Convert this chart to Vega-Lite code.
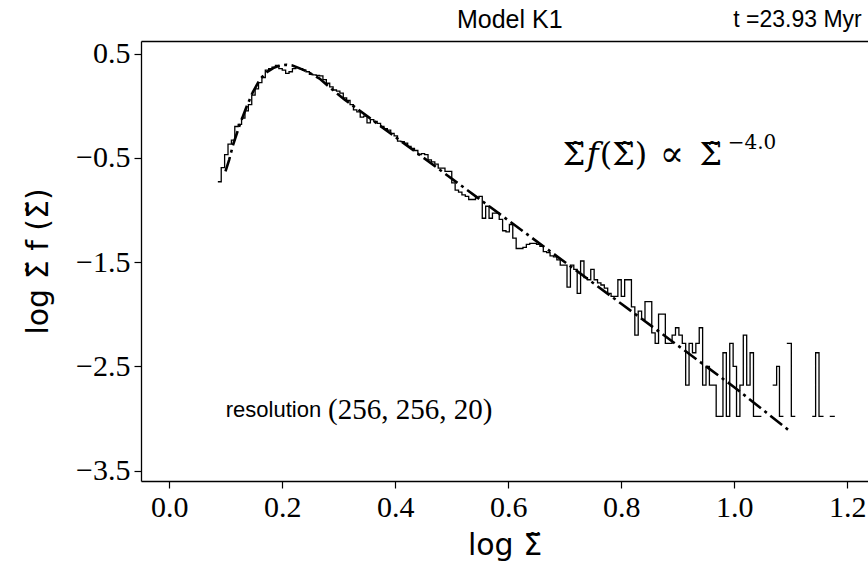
{
  "$schema": "https://vega.github.io/schema/vega-lite/v6.json",
  "width": 727,
  "height": 440,
  "autosize": {"type": "none"},
  "padding": {"left": 141, "top": 41, "right": 0, "bottom": 86},
  "background": "white",
  "config": {
    "view": {"stroke": null},
    "axis": {
      "grid": false,
      "domainColor": "black",
      "domainWidth": 1.3,
      "tickColor": "black",
      "tickWidth": 1.2,
      "tickSize": 7,
      "labelFont": "Liberation Serif",
      "labelFontSize": 30,
      "labelColor": "black",
      "labelPadding": 4,
      "titleFont": "DejaVu Sans",
      "titleFontSize": 30,
      "titleFontWeight": "normal",
      "titleColor": "black"
    },
    "text": {"color": "black"}
  },
  "resolve": {"axis": {"x": "independent", "y": "independent"}},
  "layer": [
    {
      "data": {"values": [
        {"x": 0.086, "y": -0.73}, {"x": 0.092, "y": -0.595}, {"x": 0.098, "y": -0.47}, {"x": 0.104, "y": -0.37},
        {"x": 0.110, "y": -0.33}, {"x": 0.116, "y": -0.20}, {"x": 0.122, "y": -0.18}, {"x": 0.128, "y": -0.12},
        {"x": 0.134, "y": -0.05}, {"x": 0.140, "y": 0.01}, {"x": 0.146, "y": 0.10}, {"x": 0.152, "y": 0.16},
        {"x": 0.158, "y": 0.22}, {"x": 0.164, "y": 0.27}, {"x": 0.170, "y": 0.34}, {"x": 0.176, "y": 0.355},
        {"x": 0.182, "y": 0.37}, {"x": 0.188, "y": 0.385}, {"x": 0.194, "y": 0.355}, {"x": 0.200, "y": 0.34},
        {"x": 0.206, "y": 0.31}, {"x": 0.212, "y": 0.325}, {"x": 0.218, "y": 0.355}, {"x": 0.224, "y": 0.365},
        {"x": 0.230, "y": 0.355}, {"x": 0.236, "y": 0.34}, {"x": 0.242, "y": 0.325}, {"x": 0.248, "y": 0.30},
        {"x": 0.254, "y": 0.295}, {"x": 0.260, "y": 0.29}, {"x": 0.266, "y": 0.285}, {"x": 0.272, "y": 0.25},
        {"x": 0.278, "y": 0.215}, {"x": 0.284, "y": 0.18}, {"x": 0.290, "y": 0.15}, {"x": 0.296, "y": 0.14},
        {"x": 0.302, "y": 0.12}, {"x": 0.308, "y": 0.075}, {"x": 0.314, "y": 0.05}, {"x": 0.320, "y": 0.01},
        {"x": 0.326, "y": -0.04}, {"x": 0.332, "y": -0.06}, {"x": 0.338, "y": -0.11}, {"x": 0.344, "y": -0.10},
        {"x": 0.350, "y": -0.165}, {"x": 0.356, "y": -0.135}, {"x": 0.362, "y": -0.15}, {"x": 0.368, "y": -0.17},
        {"x": 0.374, "y": -0.20}, {"x": 0.380, "y": -0.22}, {"x": 0.386, "y": -0.235}, {"x": 0.392, "y": -0.265},
        {"x": 0.398, "y": -0.29}, {"x": 0.404, "y": -0.34}, {"x": 0.410, "y": -0.345}, {"x": 0.416, "y": -0.36},
        {"x": 0.422, "y": -0.39}, {"x": 0.428, "y": -0.41}, {"x": 0.434, "y": -0.43}, {"x": 0.440, "y": -0.47},
        {"x": 0.446, "y": -0.46}, {"x": 0.452, "y": -0.47}, {"x": 0.458, "y": -0.52}, {"x": 0.464, "y": -0.54},
        {"x": 0.470, "y": -0.56}, {"x": 0.476, "y": -0.60}, {"x": 0.482, "y": -0.60}, {"x": 0.488, "y": -0.63},
        {"x": 0.494, "y": -0.63}, {"x": 0.500, "y": -0.74}, {"x": 0.506, "y": -0.81}, {"x": 0.512, "y": -0.83},
        {"x": 0.518, "y": -0.855}, {"x": 0.524, "y": -0.87}, {"x": 0.530, "y": -0.90}, {"x": 0.536, "y": -0.90},
        {"x": 0.542, "y": -0.885}, {"x": 0.548, "y": -0.87}, {"x": 0.554, "y": -1.08}, {"x": 0.560, "y": -0.965},
        {"x": 0.566, "y": -1.08}, {"x": 0.572, "y": -1.03}, {"x": 0.578, "y": -1.03}, {"x": 0.584, "y": -1.09},
        {"x": 0.590, "y": -1.20}, {"x": 0.596, "y": -1.21}, {"x": 0.602, "y": -1.14}, {"x": 0.608, "y": -1.27},
        {"x": 0.614, "y": -1.37}, {"x": 0.620, "y": -1.37}, {"x": 0.626, "y": -1.36}, {"x": 0.632, "y": -1.33},
        {"x": 0.638, "y": -1.32}, {"x": 0.644, "y": -1.32}, {"x": 0.650, "y": -1.33}, {"x": 0.656, "y": -1.35},
        {"x": 0.662, "y": -1.40}, {"x": 0.668, "y": -1.41}, {"x": 0.674, "y": -1.44}, {"x": 0.680, "y": -1.45},
        {"x": 0.686, "y": -1.48}, {"x": 0.692, "y": -1.53}, {"x": 0.698, "y": -1.53}, {"x": 0.704, "y": -1.74},
        {"x": 0.710, "y": -1.53}, {"x": 0.716, "y": -1.57}, {"x": 0.722, "y": -1.80}, {"x": 0.728, "y": -1.49},
        {"x": 0.734, "y": -1.65}, {"x": 0.740, "y": -1.67}, {"x": 0.746, "y": -1.57}, {"x": 0.752, "y": -1.67},
        {"x": 0.758, "y": -1.70}, {"x": 0.764, "y": -1.72}, {"x": 0.770, "y": -1.75}, {"x": 0.776, "y": -1.80},
        {"x": 0.782, "y": -1.83}, {"x": 0.788, "y": -1.83}, {"x": 0.794, "y": -1.67}, {"x": 0.800, "y": -1.83},
        {"x": 0.806, "y": -1.67}, {"x": 0.812, "y": -1.67}, {"x": 0.818, "y": -1.93}, {"x": 0.824, "y": -2.20},
        {"x": 0.830, "y": -1.97}, {"x": 0.836, "y": -2.05}, {"x": 0.842, "y": -1.88}, {"x": 0.848, "y": -1.88},
        {"x": 0.854, "y": -2.18}, {"x": 0.860, "y": -2.28}, {"x": 0.866, "y": -2.00}, {"x": 0.872, "y": -2.00},
        {"x": 0.878, "y": -2.28}, {"x": 0.884, "y": -2.28}, {"x": 0.890, "y": -2.20}, {"x": 0.896, "y": -2.13},
        {"x": 0.902, "y": -2.20}, {"x": 0.908, "y": -2.28}, {"x": 0.914, "y": -2.68}, {"x": 0.920, "y": -2.28},
        {"x": 0.926, "y": -2.37}, {"x": 0.932, "y": -2.28}, {"x": 0.938, "y": -2.13}, {"x": 0.944, "y": -2.68},
        {"x": 0.950, "y": -2.50}, {"x": 0.956, "y": -2.68}, {"x": 0.962, "y": -2.68}, {"x": 0.968, "y": -2.98},
        {"x": 0.974, "y": -2.98}, {"x": 0.980, "y": -2.37}, {"x": 0.986, "y": -2.98}, {"x": 0.992, "y": -2.28},
        {"x": 0.998, "y": -2.50}, {"x": 1.004, "y": -2.98}, {"x": 1.010, "y": -2.68}, {"x": 1.016, "y": -2.20},
        {"x": 1.022, "y": -2.68}, {"x": 1.028, "y": -2.37}, {"x": 1.034, "y": -2.98}, {"x": 1.040, "y": -2.98},
        {"x": 1.048, "y": -2.98}, {"x": 1.054, "y": null},
        {"x": 1.068, "y": -2.68}, {"x": 1.075, "y": -2.50}, {"x": 1.080, "y": -2.98}, {"x": 1.087, "y": -2.98},
        {"x": 1.090, "y": null},
        {"x": 1.093, "y": -2.28}, {"x": 1.101, "y": -2.98}, {"x": 1.108, "y": -2.98}, {"x": 1.120, "y": null},
        {"x": 1.138, "y": -2.98}, {"x": 1.144, "y": -2.37}, {"x": 1.150, "y": -2.98}, {"x": 1.158, "y": -2.98},
        {"x": 1.163, "y": null},
        {"x": 1.169, "y": -2.98}, {"x": 1.178, "y": -2.98}
      ]},
      "mark": {"type": "line", "interpolate": "step-after", "color": "black", "strokeWidth": 1.3, "invalid": "break-paths-filter-domains"},
      "encoding": {
        "x": {"field": "x", "type": "quantitative",
              "scale": {"domain": [-0.05, 1.2367], "nice": false, "zero": false},
              "axis": {"orient": "bottom", "values": [0, 0.2, 0.4, 0.6, 0.8, 1.0, 1.2], "format": ".1f", "title": "log Σ̃", "titlePadding": 8}},
        "y": {"field": "y", "type": "quantitative",
              "scale": {"domain": [-3.6, 0.62], "nice": false, "zero": false},
              "axis": {"orient": "left", "values": [-3.5, -2.5, -1.5, -0.5, 0.5], "format": ".1f", "title": "log Σ̃ f (Σ̃)", "titlePadding": 22}}
      }
    },
    {
      "data": {"values": [
        {"x": 0.0995, "y": -0.63}, {"x": 0.106, "y": -0.52}, {"x": 0.113, "y": -0.375}, {"x": 0.125, "y": -0.18},
        {"x": 0.137, "y": -0.008}, {"x": 0.148, "y": 0.13}, {"x": 0.160, "y": 0.248}, {"x": 0.172, "y": 0.32},
        {"x": 0.184, "y": 0.36}, {"x": 0.196, "y": 0.385}, {"x": 0.207, "y": 0.392}, {"x": 0.218, "y": 0.385},
        {"x": 0.230, "y": 0.36}, {"x": 0.245, "y": 0.325}, {"x": 0.266, "y": 0.26}, {"x": 0.285, "y": 0.17},
        {"x": 0.310, "y": 0.06}, {"x": 0.355, "y": -0.12}, {"x": 0.450, "y": -0.50}, {"x": 0.600, "y": -1.10},
        {"x": 0.800, "y": -1.90}, {"x": 1.000, "y": -2.70}, {"x": 1.098, "y": -3.12}
      ]},
      "mark": {"type": "line", "color": "black", "strokeWidth": 2.6, "strokeDash": [15, 4.5, 3, 4.5], "strokeCap": "butt"},
      "encoding": {
        "x": {"field": "x", "type": "quantitative",
              "axis": {"orient": "top", "labels": false, "ticks": false, "title": null, "domain": true}},
        "y": {"field": "y", "type": "quantitative", "axis": null}
      }
    },
    {
      "data": {"values": [{"label": "Model K1"}]},
      "mark": {"type": "text", "align": "center", "baseline": "middle", "font": "Liberation Sans", "fontSize": 25},
      "encoding": {
        "x": {"datum": 0.6027, "type": "quantitative", "axis": null},
        "y": {"datum": 0.823, "type": "quantitative", "axis": null},
        "text": {"field": "label"}
      }
    },
    {
      "data": {"values": [{"label": "t =23.93 Myr"}]},
      "mark": {"type": "text", "align": "right", "baseline": "middle", "font": "Liberation Sans", "fontSize": 23},
      "encoding": {
        "x": {"datum": 1.2257, "type": "quantitative", "axis": null},
        "y": {"datum": 0.823, "type": "quantitative", "axis": null},
        "text": {"field": "label"}
      }
    },
    {
      "data": {"values": [{"label": "Σ̃"}]},
      "mark": {"type": "text", "align": "left", "baseline": "middle", "font": "DejaVu Serif", "fontSize": 32},
      "encoding": {
        "x": {"datum": 0.6965, "type": "quantitative", "axis": null},
        "y": {"datum": -0.47, "type": "quantitative", "axis": null},
        "text": {"field": "label"}
      }
    },
    {
      "data": {"values": [{"label": "f"}]},
      "mark": {"type": "text", "align": "left", "baseline": "middle", "font": "DejaVu Serif", "fontSize": 32, "fontStyle": "italic"},
      "encoding": {
        "x": {"datum": 0.7389, "type": "quantitative", "axis": null},
        "y": {"datum": -0.47, "type": "quantitative", "axis": null},
        "text": {"field": "label"}
      }
    },
    {
      "data": {"values": [{"label": "(Σ̃)"}]},
      "mark": {"type": "text", "align": "left", "baseline": "middle", "font": "DejaVu Serif", "fontSize": 32},
      "encoding": {
        "x": {"datum": 0.7619, "type": "quantitative", "axis": null},
        "y": {"datum": -0.47, "type": "quantitative", "axis": null},
        "text": {"field": "label"}
      }
    },
    {
      "data": {"values": [{"label": "∝"}]},
      "mark": {"type": "text", "align": "left", "baseline": "middle", "font": "DejaVu Serif", "fontSize": 36},
      "encoding": {
        "x": {"datum": 0.868, "type": "quantitative", "axis": null},
        "y": {"datum": -0.47, "type": "quantitative", "axis": null},
        "text": {"field": "label"}
      }
    },
    {
      "data": {"values": [{"label": "Σ̃"}]},
      "mark": {"type": "text", "align": "left", "baseline": "middle", "font": "DejaVu Serif", "fontSize": 32},
      "encoding": {
        "x": {"datum": 0.9385, "type": "quantitative", "axis": null},
        "y": {"datum": -0.47, "type": "quantitative", "axis": null},
        "text": {"field": "label"}
      }
    },
    {
      "data": {"values": [{"label": "−4.0"}]},
      "mark": {"type": "text", "align": "left", "baseline": "middle", "font": "DejaVu Serif", "fontSize": 20},
      "encoding": {
        "x": {"datum": 0.9885, "type": "quantitative", "axis": null},
        "y": {"datum": -0.355, "type": "quantitative", "axis": null},
        "text": {"field": "label"}
      }
    },
    {
      "data": {"values": [{"label": "resolution"}]},
      "mark": {"type": "text", "align": "left", "baseline": "middle", "font": "Liberation Sans", "fontSize": 22},
      "encoding": {
        "x": {"datum": 0.100, "type": "quantitative", "axis": null},
        "y": {"datum": -2.916, "type": "quantitative", "axis": null},
        "text": {"field": "label"}
      }
    },
    {
      "data": {"values": [{"label": "(256, 256, 20)"}]},
      "mark": {"type": "text", "align": "left", "baseline": "middle", "font": "Liberation Serif", "fontSize": 29},
      "encoding": {
        "x": {"datum": 0.281, "type": "quantitative", "axis": null},
        "y": {"datum": -2.916, "type": "quantitative", "axis": null},
        "text": {"field": "label"}
      }
    }
  ]
}
